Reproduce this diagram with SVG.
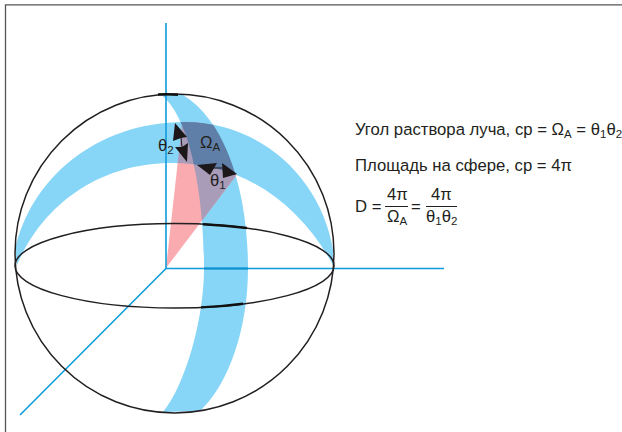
<svg xmlns="http://www.w3.org/2000/svg" width="622" height="432" viewBox="0 0 622 432">
<style>
text{font-family:"Liberation Sans",Arial,sans-serif;font-size:16.7px;fill:#231f20}
.s{font-size:11.5px}
.k{fill:none;stroke:#231f20;stroke-width:1.5}
.kt{fill:none;stroke:#111;stroke-width:2.4}
.b{fill:none;stroke:#0f9bdc;stroke-width:1.6}
.ar{fill:#1c1718}
</style>
<defs>
<path id="H" d="M15 250C30 180 95 122 185 122C262 122 322 180 333 250L333 265C300 205 245 163 172 163C100 163 43 204 17 265Z"/>
<path id="V" d="M160 94C190 115 204 195 204 268C204 320 185 385 163 412L200 411C228 385 248 330 248 268C248 190 225 120 183 95Z"/>
<clipPath id="cH"><use href="#H"/></clipPath>
<clipPath id="cV"><use href="#V"/></clipPath>
</defs>
<g id="frame"><path d="M5.500 432V4.800H622" fill="none" stroke="#555" stroke-width="1.300"/></g>
<g id="bands">
<use href="#H" fill="#87d6f7"/>
<use href="#V" fill="#87d6f7"/>
<path d="M166 268L178 160L237 174.500Z" fill="#f9abb0"/>
<g clip-path="url(#cH)"><path d="M166 268L183 115L205 115L205 175Z" fill="#a99cb9"/></g>
<g clip-path="url(#cV)"><path d="M166 268L237 174.500L175 150Z" fill="#a99cb9"/></g>
<g clip-path="url(#cH)"><use href="#V" fill="#5f7fa8"/></g>
</g>
<g id="connectors">
<path class="b" d="M166 23V268.500H444M166 268.500L20 415"/>
<path d="M204 268.500H248" stroke="#0a8fd0" stroke-width="2" fill="none"/>
</g>
<g id="sphere">
<circle class="k" cx="174.500" cy="253.500" r="159.500"/>
<ellipse class="k" cx="174.500" cy="265.800" rx="159.500" ry="42.200"/>
<path class="kt" d="M158 94.500Q168 94 178 94.700"/>
<path class="kt" d="M203 224.300Q225 225.500 247 228"/>
<path class="kt" d="M201 307.400Q222 306.500 243 303.700"/>
</g>
<g id="arrows">
<path class="ar" d="M175 123L187 137L181 138L173 141Z"/>
<path class="ar" d="M187 162L175 147L182 147L188 143Z"/>
<path class="ar" d="M197 165L217 163L210 175Z"/>
<path class="ar" d="M237 174L222 163L223 178Z"/>
<path d="M181 138L182 147M212 168H222" stroke="#1c1718" fill="none"/>
</g>
<g id="labels">
<text x="158" y="151">θ<tspan class="s" dy="3">2</tspan></text>
<text x="200" y="148">Ω<tspan class="s" dy="3">A</tspan></text>
<text x="210" y="186">θ<tspan class="s" dy="3">1</tspan></text>
<text x="355" y="135">Угол раствора луча, ср = Ω<tspan class="s" dy="3">A</tspan><tspan dy="-3"> = θ</tspan><tspan class="s" dy="3">1</tspan><tspan dy="-3">θ</tspan><tspan class="s" dy="3">2</tspan></text>
<text x="355" y="171">Площадь на сфере, ср = 4π</text>
<text x="355" y="212">D =</text>
<text x="387" y="200">4π</text>
<path d="M385 206.500H408M426 206.500H457" stroke="#231f20" fill="none"/>
<text x="387" y="222">Ω<tspan class="s" dy="3">A</tspan></text>
<text x="411" y="212">=</text>
<text x="431" y="200">4π</text>
<text x="426" y="222">θ<tspan class="s" dy="3">1</tspan><tspan dy="-3">θ</tspan><tspan class="s" dy="3">2</tspan></text>
</g>
</svg>
